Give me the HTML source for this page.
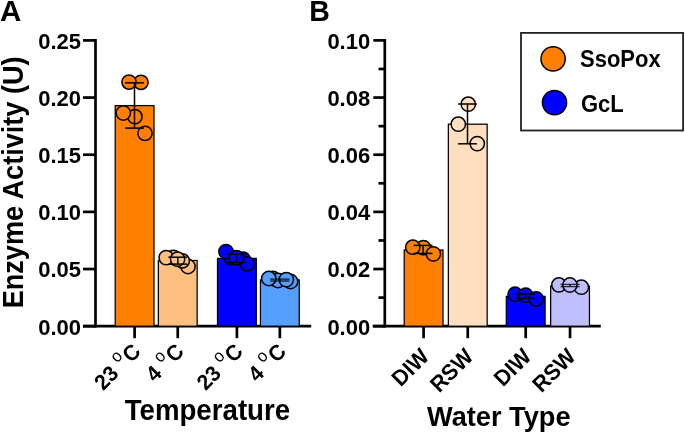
<!DOCTYPE html>
<html><head><meta charset="utf-8"><style>
html,body{margin:0;padding:0;background:#fff;}
svg{display:block;will-change:transform;}
text{font-family:"Liberation Sans", sans-serif;font-weight:bold;fill:#000;}
</style></head><body>
<svg width="685" height="432" viewBox="0 0 685 432">
<rect width="685" height="432" fill="#fff"/>
<line x1="95.5" y1="39.1" x2="95.5" y2="327.55" stroke="#000" stroke-width="2.7"/>
<line x1="83" y1="326.2" x2="311.2" y2="326.2" stroke="#000" stroke-width="2.7"/>
<line x1="83" y1="40.40" x2="95.5" y2="40.40" stroke="#000" stroke-width="2.7"/>
<text transform="translate(81.00,48.80) scale(1.0,1.04)" font-size="22" text-anchor="end">0.25</text>
<line x1="83" y1="97.56" x2="95.5" y2="97.56" stroke="#000" stroke-width="2.7"/>
<text transform="translate(81.00,105.96) scale(1.0,1.04)" font-size="22" text-anchor="end">0.20</text>
<line x1="83" y1="154.72" x2="95.5" y2="154.72" stroke="#000" stroke-width="2.7"/>
<text transform="translate(81.00,163.12) scale(1.0,1.04)" font-size="22" text-anchor="end">0.15</text>
<line x1="83" y1="211.88" x2="95.5" y2="211.88" stroke="#000" stroke-width="2.7"/>
<text transform="translate(81.00,220.28) scale(1.0,1.04)" font-size="22" text-anchor="end">0.10</text>
<line x1="83" y1="269.04" x2="95.5" y2="269.04" stroke="#000" stroke-width="2.7"/>
<text transform="translate(81.00,277.44) scale(1.0,1.04)" font-size="22" text-anchor="end">0.05</text>
<line x1="83" y1="326.20" x2="95.5" y2="326.20" stroke="#000" stroke-width="2.7"/>
<text transform="translate(81.00,334.60) scale(1.0,1.04)" font-size="22" text-anchor="end">0.00</text>
<line x1="384.8" y1="39.1" x2="384.8" y2="327.55" stroke="#000" stroke-width="2.7"/>
<line x1="372.7" y1="326.2" x2="600.8" y2="326.2" stroke="#000" stroke-width="2.7"/>
<line x1="373.3" y1="40.40" x2="384.8" y2="40.40" stroke="#000" stroke-width="2.7"/>
<text transform="translate(370.20,48.80) scale(1.0,1.04)" font-size="22" text-anchor="end">0.10</text>
<line x1="378.5" y1="68.98" x2="384.8" y2="68.98" stroke="#000" stroke-width="2.7"/>
<line x1="373.3" y1="97.56" x2="384.8" y2="97.56" stroke="#000" stroke-width="2.7"/>
<text transform="translate(370.20,105.96) scale(1.0,1.04)" font-size="22" text-anchor="end">0.08</text>
<line x1="378.5" y1="126.14" x2="384.8" y2="126.14" stroke="#000" stroke-width="2.7"/>
<line x1="373.3" y1="154.72" x2="384.8" y2="154.72" stroke="#000" stroke-width="2.7"/>
<text transform="translate(370.20,163.12) scale(1.0,1.04)" font-size="22" text-anchor="end">0.06</text>
<line x1="378.5" y1="183.30" x2="384.8" y2="183.30" stroke="#000" stroke-width="2.7"/>
<line x1="373.3" y1="211.88" x2="384.8" y2="211.88" stroke="#000" stroke-width="2.7"/>
<text transform="translate(370.20,220.28) scale(1.0,1.04)" font-size="22" text-anchor="end">0.04</text>
<line x1="378.5" y1="240.46" x2="384.8" y2="240.46" stroke="#000" stroke-width="2.7"/>
<line x1="373.3" y1="269.04" x2="384.8" y2="269.04" stroke="#000" stroke-width="2.7"/>
<text transform="translate(370.20,277.44) scale(1.0,1.04)" font-size="22" text-anchor="end">0.02</text>
<line x1="378.5" y1="297.62" x2="384.8" y2="297.62" stroke="#000" stroke-width="2.7"/>
<line x1="373.3" y1="326.20" x2="384.8" y2="326.20" stroke="#000" stroke-width="2.7"/>
<text transform="translate(370.20,334.60) scale(1.0,1.04)" font-size="22" text-anchor="end">0.00</text>
<rect x="115.20" y="105.60" width="38.8" height="220.60" fill="#FF8000" stroke="#000" stroke-width="1.25"/>
<circle cx="141" cy="82.3" r="7.15" fill="#FF8000" stroke="#000" stroke-width="1.5"/>
<circle cx="129" cy="82.05" r="7.15" fill="#FF8000" stroke="#000" stroke-width="1.5"/>
<circle cx="134.9" cy="116.7" r="7.15" fill="#FF8000" stroke="#000" stroke-width="1.5"/>
<circle cx="123.3" cy="113" r="7.15" fill="#FF8000" stroke="#000" stroke-width="1.5"/>
<circle cx="145" cy="133.3" r="7.15" fill="#FF8000" stroke="#000" stroke-width="1.5"/>
<line x1="134.5" y1="82.8" x2="134.5" y2="128.1" stroke="#000" stroke-width="1.5"/>
<line x1="125.10" y1="82.8" x2="143.90" y2="82.8" stroke="#000" stroke-width="1.5"/>
<line x1="125.10" y1="128.1" x2="143.90" y2="128.1" stroke="#000" stroke-width="1.5"/>
<line x1="134.6" y1="326.2" x2="134.6" y2="338.2" stroke="#000" stroke-width="2.7"/>
<rect x="158.35" y="260.50" width="38.8" height="65.70" fill="#FFBF80" stroke="#000" stroke-width="1.25"/>
<circle cx="173.5" cy="257.5" r="7.15" fill="#FFBF80" stroke="#000" stroke-width="1.5"/>
<circle cx="188" cy="266.5" r="7.15" fill="#FFBF80" stroke="#000" stroke-width="1.5"/>
<circle cx="182.3" cy="260.8" r="7.15" fill="#FFBF80" stroke="#000" stroke-width="1.5"/>
<circle cx="166.2" cy="257.6" r="7.15" fill="#FFBF80" stroke="#000" stroke-width="1.5"/>
<circle cx="177.6" cy="259.2" r="7.15" fill="#FFBF80" stroke="#000" stroke-width="1.5"/>
<line x1="177.8" y1="257.2" x2="177.8" y2="264.1" stroke="#000" stroke-width="1.5"/>
<line x1="168.40" y1="257.2" x2="187.20" y2="257.2" stroke="#000" stroke-width="1.5"/>
<line x1="168.40" y1="264.1" x2="187.20" y2="264.1" stroke="#000" stroke-width="1.5"/>
<line x1="177.75" y1="326.2" x2="177.75" y2="338.2" stroke="#000" stroke-width="2.7"/>
<rect x="217.50" y="258.40" width="38.8" height="67.80" fill="#0000FF" stroke="#000" stroke-width="1.25"/>
<circle cx="231.2" cy="257.6" r="7.15" fill="#0000FF" stroke="#000" stroke-width="1.5"/>
<circle cx="243" cy="259.2" r="7.15" fill="#0000FF" stroke="#000" stroke-width="1.5"/>
<circle cx="247.3" cy="263.8" r="7.15" fill="#0000FF" stroke="#000" stroke-width="1.5"/>
<circle cx="226" cy="251.6" r="7.15" fill="#0000FF" stroke="#000" stroke-width="1.5"/>
<circle cx="236.5" cy="257.6" r="7.15" fill="#0000FF" stroke="#000" stroke-width="1.5"/>
<line x1="236.5" y1="254.2" x2="236.5" y2="262.6" stroke="#000" stroke-width="1.5"/>
<line x1="227.10" y1="254.2" x2="245.90" y2="254.2" stroke="#000" stroke-width="1.5"/>
<line x1="227.10" y1="262.6" x2="245.90" y2="262.6" stroke="#000" stroke-width="1.5"/>
<line x1="236.9" y1="326.2" x2="236.9" y2="338.2" stroke="#000" stroke-width="2.7"/>
<rect x="260.45" y="279.90" width="38.8" height="46.30" fill="#559FFF" stroke="#000" stroke-width="1.25"/>
<circle cx="272.9" cy="278.5" r="7.15" fill="#559FFF" stroke="#000" stroke-width="1.5"/>
<circle cx="278" cy="280.5" r="7.15" fill="#559FFF" stroke="#000" stroke-width="1.5"/>
<circle cx="290.6" cy="281.5" r="7.15" fill="#559FFF" stroke="#000" stroke-width="1.5"/>
<circle cx="268.75" cy="278.5" r="7.15" fill="#559FFF" stroke="#000" stroke-width="1.5"/>
<circle cx="286.3" cy="279.6" r="7.15" fill="#559FFF" stroke="#000" stroke-width="1.5"/>
<line x1="279.9" y1="279.1" x2="279.9" y2="281.0" stroke="#000" stroke-width="1.5"/>
<line x1="270.20" y1="279.1" x2="289.60" y2="279.1" stroke="#000" stroke-width="1.3" stroke-opacity="0.85"/>
<line x1="270.20" y1="281.0" x2="289.60" y2="281.0" stroke="#000" stroke-width="1.3" stroke-opacity="0.85"/>
<line x1="279.85" y1="326.2" x2="279.85" y2="338.2" stroke="#000" stroke-width="2.7"/>
<rect x="404.20" y="250.00" width="38.8" height="76.20" fill="#FF8000" stroke="#000" stroke-width="1.25"/>
<circle cx="423.4" cy="247.6" r="7.15" fill="#FF8000" stroke="#000" stroke-width="1.5"/>
<circle cx="412.8" cy="247.2" r="7.15" fill="#FF8000" stroke="#000" stroke-width="1.5"/>
<circle cx="433.4" cy="253.9" r="7.15" fill="#FF8000" stroke="#000" stroke-width="1.5"/>
<line x1="423.1" y1="245.4" x2="423.1" y2="253.4" stroke="#000" stroke-width="1.5"/>
<line x1="413.70" y1="245.4" x2="432.50" y2="245.4" stroke="#000" stroke-width="1.5"/>
<line x1="413.70" y1="253.4" x2="432.50" y2="253.4" stroke="#000" stroke-width="1.5"/>
<line x1="423.6" y1="326.2" x2="423.6" y2="338.2" stroke="#000" stroke-width="2.7"/>
<rect x="448.35" y="124.20" width="38.8" height="202.00" fill="#FFDFC0" stroke="#000" stroke-width="1.25"/>
<circle cx="468.25" cy="104.2" r="7.15" fill="#FFDFC0" stroke="#000" stroke-width="1.5"/>
<circle cx="458.3" cy="124.2" r="7.15" fill="#FFDFC0" stroke="#000" stroke-width="1.5"/>
<circle cx="477.25" cy="143.6" r="7.15" fill="#FFDFC0" stroke="#000" stroke-width="1.5"/>
<line x1="467.5" y1="104.0" x2="467.5" y2="143.8" stroke="#000" stroke-width="1.5"/>
<line x1="458.10" y1="104.0" x2="476.90" y2="104.0" stroke="#000" stroke-width="1.5"/>
<line x1="458.10" y1="143.8" x2="476.90" y2="143.8" stroke="#000" stroke-width="1.5"/>
<line x1="467.75" y1="326.2" x2="467.75" y2="338.2" stroke="#000" stroke-width="2.7"/>
<rect x="506.30" y="296.40" width="38.8" height="29.80" fill="#0000FF" stroke="#000" stroke-width="1.25"/>
<circle cx="515.1" cy="294.25" r="7.15" fill="#0000FF" stroke="#000" stroke-width="1.5"/>
<circle cx="525.7" cy="295.25" r="7.15" fill="#0000FF" stroke="#000" stroke-width="1.5"/>
<circle cx="536.1" cy="298.95" r="7.15" fill="#0000FF" stroke="#000" stroke-width="1.5"/>
<line x1="525.5" y1="293.9" x2="525.5" y2="298.4" stroke="#000" stroke-width="1.5"/>
<line x1="516.10" y1="293.9" x2="534.90" y2="293.9" stroke="#000" stroke-width="1.5"/>
<line x1="516.10" y1="298.4" x2="534.90" y2="298.4" stroke="#000" stroke-width="1.5"/>
<line x1="525.7" y1="326.2" x2="525.7" y2="338.2" stroke="#000" stroke-width="2.7"/>
<rect x="550.65" y="286.10" width="38.8" height="40.10" fill="#BFBFFF" stroke="#000" stroke-width="1.25"/>
<circle cx="558.9" cy="284.95" r="7.15" fill="#BFBFFF" stroke="#000" stroke-width="1.5"/>
<circle cx="581.35" cy="287.2" r="7.15" fill="#BFBFFF" stroke="#000" stroke-width="1.5"/>
<circle cx="569.9" cy="285" r="7.15" fill="#BFBFFF" stroke="#000" stroke-width="1.5"/>
<line x1="570.05" y1="284.4" x2="570.05" y2="286.6" stroke="#000" stroke-width="1.5"/>
<line x1="560.45" y1="284.4" x2="579.65" y2="284.4" stroke="#000" stroke-width="1.3" stroke-opacity="0.8"/>
<line x1="560.45" y1="286.6" x2="579.65" y2="286.6" stroke="#000" stroke-width="1.3" stroke-opacity="0.8"/>
<line x1="570.05" y1="326.2" x2="570.05" y2="338.2" stroke="#000" stroke-width="2.7"/>
<text transform="translate(141.90,352.70) rotate(-45) scale(1,1.04)" font-size="21" text-anchor="end">23 <tspan font-size="16.5" font-weight="normal" dy="-9.6">o</tspan><tspan dx="1" dy="9.6">C</tspan></text>
<text transform="translate(185.10,352.70) rotate(-45) scale(1,1.04)" font-size="21" text-anchor="end">4 <tspan font-size="16.5" font-weight="normal" dy="-9.6">o</tspan><tspan dx="1" dy="9.6">C</tspan></text>
<text transform="translate(244.20,352.70) rotate(-45) scale(1,1.04)" font-size="21" text-anchor="end">23 <tspan font-size="16.5" font-weight="normal" dy="-9.6">o</tspan><tspan dx="1" dy="9.6">C</tspan></text>
<text transform="translate(287.40,352.70) rotate(-45) scale(1,1.04)" font-size="21" text-anchor="end">4 <tspan font-size="16.5" font-weight="normal" dy="-9.6">o</tspan><tspan dx="1" dy="9.6">C</tspan></text>
<text transform="translate(430.30,358.00) rotate(-45) scale(1,1.04)" font-size="21.5" text-anchor="end">DIW</text>
<text transform="translate(474.60,358.00) rotate(-45) scale(1,1.04)" font-size="21.5" text-anchor="end">RSW</text>
<text transform="translate(532.50,358.00) rotate(-45) scale(1,1.04)" font-size="21.5" text-anchor="end">DIW</text>
<text transform="translate(576.90,358.00) rotate(-45) scale(1,1.04)" font-size="21.5" text-anchor="end">RSW</text>
<text transform="translate(0.00,20.80) scale(1.035,1.05)" font-size="28.5">A</text>
<text transform="translate(309.30,20.80) scale(1,1.05)" font-size="28.5">B</text>
<text transform="translate(22.60,182.40) rotate(-90) scale(1,1.07)" font-size="27.1" text-anchor="middle">Enzyme Activity (U)</text>
<text transform="translate(207.40,419.90) scale(1,1.055)" font-size="27.66" text-anchor="middle">Temperature</text>
<text transform="translate(498.80,425.50) scale(1,1.05)" font-size="27.2" text-anchor="middle">Water Type</text>
<rect x="521" y="32.9" width="162.1" height="97.6" fill="#fff" stroke="#222" stroke-width="1.8"/>
<circle cx="553.1" cy="58.9" r="12.1" fill="#FF8000" stroke="#000" stroke-width="1.5"/>
<circle cx="554.5" cy="102.6" r="12.1" fill="#0000FF" stroke="#000" stroke-width="1.5"/>
<text transform="translate(580.00,66.90) scale(1,1.07)" font-size="22">SsoPox</text>
<text transform="translate(581.00,112.00) scale(1,1.07)" font-size="22">GcL</text>
</svg>
</body></html>
